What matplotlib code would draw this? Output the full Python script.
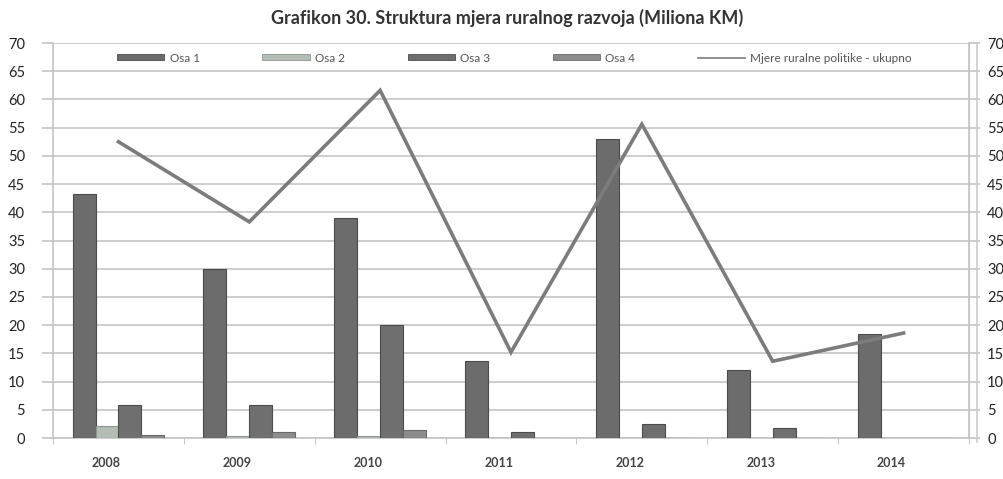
import matplotlib
matplotlib.use("Agg")
import matplotlib.pyplot as plt
import matplotlib.transforms as mtransforms
from matplotlib.patches import Patch
from matplotlib.lines import Line2D
import numpy as np

plt.rcParams['font.family'] = ['Lato', 'DejaVu Sans']

years = ["2008", "2009", "2010", "2011", "2012", "2013", "2014"]
osa1 = [43.2, 30.0, 39.0, 13.6, 52.9, 12.1, 18.5]
osa2 = [2.2, 0.4, 0.4, 0.0, 0.0, 0.0, 0.0]
osa3 = [5.9, 5.9, 20.0, 1.0, 2.4, 1.7, 0.0]
osa4 = [0.6, 1.1, 1.5, 0.0, 0.0, 0.0, 0.0]
ukupno = [52.5, 38.3, 61.6, 15.2, 55.6, 13.6, 18.6]
series_names = ["Osa 1", "Osa 2", "Osa 3", "Osa 4"]
line_name = "Mjere ruralne politike - ukupno"
title = "Grafikon 30. Struktura mjera ruralnog razvoja (Miliona KM)"
yticks = list(range(0, 75, 5))

W, H = 1004, 479
fig = plt.figure(figsize=(W / 100, H / 100), dpi=100)
ax = fig.add_axes([53 / W, 1 - 438 / H, (969 - 53) / W, (438 - 43) / H])

x = np.arange(len(years))
bw = 0.175
colors = ["#6c6c6c", "#b4bcb6", "#6f6f6f", "#8c8c8c"]
edges = ["#4a4a4a", "#8e968f", "#4c4c4c", "#6a6a6a"]
data = [osa1, osa2, osa3, osa4]
for i, (vals, c, ec) in enumerate(zip(data, colors, edges)):
    ax.bar(x + (i - 1.5) * bw, vals, width=bw, color=c, edgecolor=ec,
           linewidth=0.8, zorder=3)

ax.plot(x, ukupno, color="#7c7c7c", lw=2.6, zorder=4, solid_joinstyle="miter")

ax.set_xlim(-0.5, len(years) - 0.5)
ax.set_ylim(0, 70)
ax.set_yticks(yticks)
ax.set_yticklabels([str(v) for v in yticks], fontsize=10.5, color="#222222")
ax.yaxis.grid(True, color="#c9c9c9", lw=1.3, zorder=0)
ax.tick_params(axis="y", length=8, color="#c9c9c9", width=1.3, pad=12)
ax.set_xticks(x)
ax.set_xticklabels(years, fontsize=9, fontweight="bold", color="#444444")
ax.set_xticks(np.arange(-0.5, len(years), 1.0), minor=True)
ax.tick_params(axis="x", which="major", length=0, pad=14)
ax.tick_params(axis="x", which="minor", length=4, color="#bbbbbb")
offset = mtransforms.ScaledTranslation(-12 / 100, 0, fig.dpi_scale_trans)
for lab in ax.get_xticklabels():
    lab.set_transform(lab.get_transform() + offset)
ax.spines["top"].set_visible(False)
for s in ["left", "right", "bottom"]:
    ax.spines[s].set_color("#c4c4c4")
    ax.spines[s].set_linewidth(1.2)

ax2 = ax.twinx()
ax2.set_ylim(0, 70)
ax2.set_yticks(yticks)
ax2.set_yticklabels([str(v) for v in yticks], fontsize=10.5, color="#222222")
ax2.tick_params(axis="y", length=8, color="#c9c9c9", width=1.3, pad=5)
for s in ["top", "left", "bottom"]:
    ax2.spines[s].set_visible(False)
ax2.spines["right"].set_color("#c4c4c4")
# outer frame line to the right of the tick marks
ax2.plot([1 + 8 / 916, 1 + 8 / 916], [-0.01, 1.0], transform=ax2.transAxes,
         color="#cccccc", lw=1.2, clip_on=False)

handles = [Patch(facecolor=c, edgecolor=ec, lw=0.6) for c, ec in zip(colors, edges)]
handles.append(Line2D([0], [0], color="#7c7c7c", lw=1.2))
leg = ax.legend(handles, series_names + [line_name], loc="center",
                bbox_to_anchor=(0.504, 0.962), ncol=5, frameon=False,
                fontsize=8.5, handlelength=4.0, handleheight=0.4,
                columnspacing=5.3, handletextpad=0.45, labelcolor="#555555",
                borderpad=0.2)

fig.text(507 / W, 1 - 18 / H, title, ha="center", va="center", fontsize=13,
         fontweight="bold", color="#333333")

fig.savefig("out.png", dpi=100, facecolor="white")
